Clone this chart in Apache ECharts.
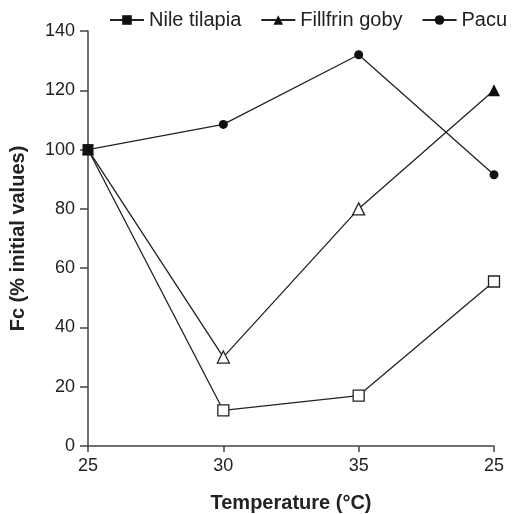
<!DOCTYPE html>
<html>
<head>
<meta charset="utf-8">
<script src="https://cdn.jsdelivr.net/npm/echarts@6/dist/echarts.min.js"></script>
<style>
  html, body { margin: 0; padding: 0; background: #fff; }
  #chart { width: 513px; height: 514px; }
</style>
</head>
<body>
<div id="chart"></div>
<script>
// temperature steps (the last one is the return to 25 °C)
var temps = ['25', '30', '35', '25'];
var tilapia = [100, 12, 17, 55.5];
var goby = [100, 30, 80, 120];
var pacu = [100, 108.5, 132, 91.5];
// which points are drawn hollow
var tilapiaOpen = [false, true, true, true];
var gobyOpen = [false, true, true, false];

function withFill(values, open) {
    return values.map(function (v, i) {
        if (!open[i]) return v;
        return { value: v, itemStyle: { color: '#fff', borderColor: '#222', borderWidth: 1.3 } };
    });
}

var font = 'Liberation Sans, Arial, sans-serif';
var myChart = echarts.init(document.getElementById('chart'));
myChart.setOption({
    animation: false,
    grid: { left: 88, right: 19, top: 31, bottom: 68, containLabel: false, outerBoundsMode: 'none' },
    legend: {
        top: 10,
        left: 109,
        width: 420,
        padding: 0,
        itemWidth: 34,
        itemHeight: 12,
        itemGap: 19,
        textStyle: { fontFamily: font, fontSize: 20, color: '#222' },
        data: ['Nile tilapia', 'Fillfrin goby', 'Pacu']
    },
    xAxis: {
        type: 'category',
        data: temps,
        boundaryGap: false,
        name: 'Temperature (°C)',
        nameLocation: 'middle',
        nameGap: 47,
        nameTextStyle: { fontFamily: font, fontSize: 20, fontWeight: 'bold', color: '#222' },
        axisLine: { lineStyle: { color: '#444', width: 1.5 } },
        axisTick: { alignWithLabel: true, length: 6, lineStyle: { color: '#444', width: 1.5 } },
        axisLabel: { fontFamily: font, fontSize: 18, color: '#222', margin: 11 }
    },
    yAxis: {
        type: 'value',
        min: 0,
        max: 140,
        interval: 20,
        name: 'Fc (% initial values)',
        nameLocation: 'middle',
        nameGap: 60,
        nameTextStyle: { fontFamily: font, fontSize: 20, fontWeight: 'bold', color: '#222' },
        splitLine: { show: false },
        axisLine: { show: true, lineStyle: { color: '#444', width: 1.5 } },
        axisTick: { show: true, length: 8, lineStyle: { color: '#444', width: 1.5 } },
        axisLabel: { fontFamily: font, fontSize: 18, color: '#222', margin: 13 }
    },
    series: [
        {
            name: 'Pacu',
            type: 'line',
            data: pacu,
            symbol: 'circle',
            symbolSize: 9,
            z: 2,
            itemStyle: { color: '#111' },
            lineStyle: { color: '#222', width: 1.3 }
        },
        {
            name: 'Fillfrin goby',
            type: 'line',
            data: withFill(goby, gobyOpen),
            symbol: 'triangle',
            symbolSize: 12,
            z: 3,
            itemStyle: { color: '#111' },
            lineStyle: { color: '#222', width: 1.3 }
        },
        {
            name: 'Nile tilapia',
            type: 'line',
            data: withFill(tilapia, tilapiaOpen),
            symbol: 'rect',
            symbolSize: 11,
            z: 4,
            itemStyle: { color: '#111' },
            lineStyle: { color: '#222', width: 1.3 }
        }
    ]
});
</script>
</body>
</html>
